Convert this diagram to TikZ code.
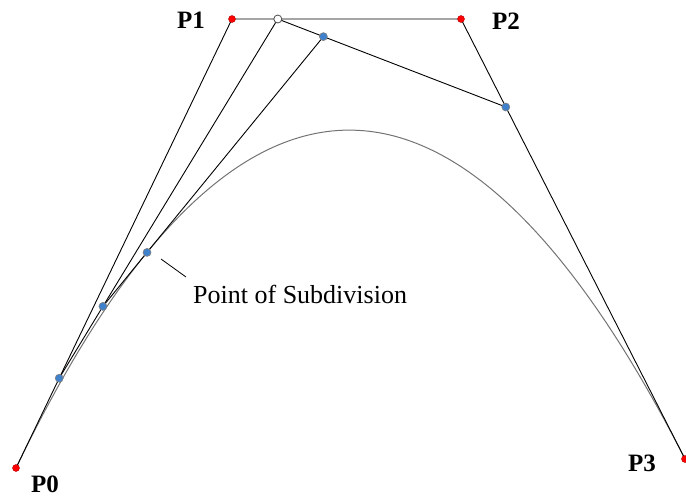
\documentclass[tikz,border=0pt]{standalone}
\usepackage{fontspec}
\setmainfont{Liberation Serif}
\usetikzlibrary{calc}

\begin{document}
\begin{tikzpicture}[x=1pt,y=-1pt,
 seg/.style={draw=black,line width=0.9pt},
 crv/.style={draw=black!55,line width=1pt},
 ctrl/.style={circle,fill=red,draw=red!70!black,inner sep=0pt,minimum size=7pt},
 mid/.style={circle,fill=cyan!50!blue!80,draw=gray,line width=0.6pt,inner sep=0pt,minimum size=8pt},
 hollow/.style={circle,fill=white,draw=gray!60!black,line width=0.8pt,inner sep=0pt,minimum size=8pt},
 lab/.style={font=\bfseries\fontsize{25}{25}\selectfont,inner sep=0pt},
 note/.style={font=\fontsize{26}{26}\selectfont,inner sep=0pt}]
\useasboundingbox (0,0) rectangle (686,498);
% control polygon
\coordinate (p0) at (16,468);
\coordinate (p1) at (232,19);
\coordinate (p2) at (461,19);
\coordinate (p3) at (685,459);
% de Casteljau at t=0.2
\coordinate (p01) at ($(p0)!0.2!(p1)$);
\coordinate (p12) at ($(p1)!0.2!(p2)$);
\coordinate (p23) at ($(p2)!0.2!(p3)$);
\coordinate (p012) at ($(p01)!0.2!(p12)$);
\coordinate (p123) at ($(p12)!0.2!(p23)$);
\coordinate (split) at ($(p012)!0.2!(p123)$);
\draw[crv] (p0) .. controls (p1) and (p2) .. (p3);
\draw[seg] (p0) -- (p1) -- (p2) -- (p3);
\draw[seg] (p01) -- (p12) -- (p23);
\draw[seg] (p012) -- (p123);
% markers
\node[ctrl] (P0) at (p0) {};
\node[ctrl] (P1) at (p1) {};
\node[ctrl] (P2) at (p2) {};
\node[ctrl] (P3) at (p3) {};
\node[mid] (Q01) at (p01) {};
\node[hollow] (Q12) at (p12) {};
\node[mid] (Q23) at (p23) {};
\node[mid] (Q012) at (p012) {};
\node[mid] (Q123) at (p123) {};
\node[mid] (S) at (split) {};
% labels
\node[lab] (t0) at (45,484) {P0};
\node[lab] (t1) at (191,20) {P1};
\node[lab] (t2) at (506,21) {P2};
\node[lab] (t3) at (642,463) {P3};
\node[note,anchor=west] (tsub) at (193,294) {Point of Subdivision};
\coordinate (lead) at (161,259);
\coordinate (leadend) at (186,277);
\draw[line width=0.8pt] (lead) -- (leadend);
\end{tikzpicture}
\end{document}
